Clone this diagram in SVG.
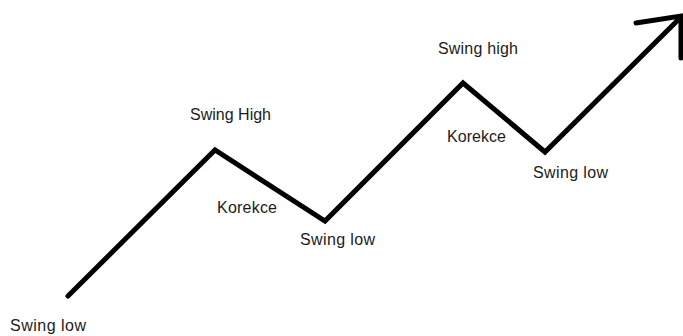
<svg xmlns="http://www.w3.org/2000/svg" width="683" height="336" viewBox="0 0 683 336">
<style>
.lbl{font-family:"Liberation Sans","DejaVu Sans",sans-serif;font-size:16px;fill:#1c1c1c}
.ln{fill:none;stroke:#000;stroke-width:5;stroke-linejoin:miter;stroke-linecap:round}
</style>
<rect width="683" height="336" fill="#fff"/>
<g id="connectors">
<polyline class="ln" points="68,296 215,150 325,221 463,83 545,152 680,18"/>
<polyline class="ln" points="636,23 681,16 681,58"/>
</g>
<g id="swing-low-1"><text class="lbl" x="10" y="331" textLength="76">Swing low</text></g>
<g id="swing-high-1"><text class="lbl" x="190" y="120" textLength="81">Swing High</text></g>
<g id="korekce-1"><text class="lbl" x="217" y="213" textLength="60">Korekce</text></g>
<g id="swing-low-2"><text class="lbl" x="300" y="245" textLength="75">Swing low</text></g>
<g id="swing-high-2"><text class="lbl" x="438" y="54" textLength="80">Swing high</text></g>
<g id="korekce-2"><text class="lbl" x="447" y="142" textLength="59">Korekce</text></g>
<g id="swing-low-3"><text class="lbl" x="533" y="178" textLength="75">Swing low</text></g>
</svg>
